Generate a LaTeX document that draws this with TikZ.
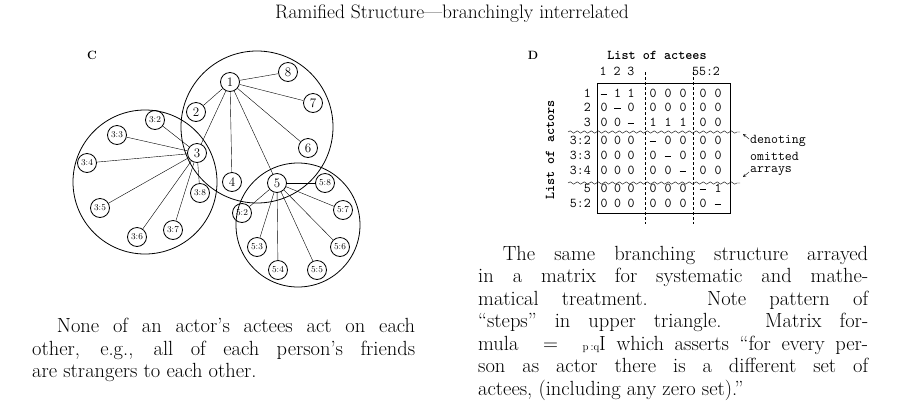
\documentclass[tikz,border=0pt]{standalone}
\usepackage{fontspec}
\usepackage{tikz}
\usetikzlibrary{decorations.pathmorphing}
\newcommand{\capfont}{\fontsize{20.5}{22.5}\selectfont}
\newcommand{\nil}{\rule[0.15em]{0.5em}{1.3pt}}
\begin{document}
\begin{tikzpicture}[
            x=1pt, y=-1pt,
            actor/.style={circle, draw, thick, inner sep=0pt, minimum size=19pt, font=\fontsize{13}{13}\selectfont},
            sub actor/.style={actor, font=\fontsize{9}{9}\selectfont},
            group/.style={thick},
            tie/.style={thin},
            wave/.style={thin, decorate, decoration={snake, amplitude=1.2pt, segment length=7pt}},
            cut/.style={thin, densely dashed},
            cell/.style={font=\ttfamily\fontsize{13.5}{13.5}\selectfont, inner sep=0pt},
            note/.style={font=\ttfamily\fontsize{13.5}{13}\selectfont, inner sep=0pt, anchor=west},
            caption/.style={align=justify, inner sep=0pt, anchor=north west, font=\capfont}
            ]
            \useasboundingbox (0,0) rectangle (897,416);
            \node (title) at (452,14) {\fontsize{19.5}{22}\selectfont Ramified Structure---branchingly interrelated};

            % C: the sociogram
            \node[font=\bfseries\large] (labC) at (92,55) {C};
            \draw[group] (257,127) circle (76);
            \draw[group] (145,182) circle (72);
            \draw[group] (298,225) circle (62);

            \node[actor] (a1) at (230,82) {1};
            \node[actor] (a2) at (196,112) {2};
            \node[actor] (a3) at (197,153) {3};
            \node[actor] (a4) at (232,182) {4};
            \node[actor] (a5) at (277,183) {5};
            \node[actor] (a6) at (308,148) {6};
            \node[actor] (a7) at (313,103) {7};
            \node[actor] (a8) at (288,72) {8};

            \node[sub actor] (a32) at (155,120) {3:2};
            \node[sub actor] (a33) at (117,135) {3:3};
            \node[sub actor] (a34) at (87,163) {3:4};
            \node[sub actor] (a35) at (100,208) {3:5};
            \node[sub actor] (a36) at (137,237) {3:6};
            \node[sub actor] (a37) at (173,230) {3:7};
            \node[sub actor] (a38) at (200,193) {3:8};

            \node[sub actor] (a52) at (242,213) {5:2};
            \node[sub actor] (a53) at (257,247) {5:3};
            \node[sub actor] (a54) at (278,270) {5:4};
            \node[sub actor] (a55) at (317,270) {5:5};
            \node[sub actor] (a56) at (340,247) {5:6};
            \node[sub actor] (a57) at (343,210) {5:7};
            \node[sub actor] (a58) at (325,183) {5:8};

            \foreach \t in {2,...,8} \draw[tie] (a1) -- (a\t);
            \foreach \t in {2,...,8} \draw[tie] (a3) -- (a3\t);
            \foreach \t in {2,...,8} \draw[tie] (a5) -- (a5\t);

            \node[caption, text width=383pt] (capC) at (32,318)
                {\hspace*{1.2em}None of an actor's actees act on each\linebreak other, e.g., all of each person's friends\linebreak are strangers to each other.};

            % D: the matrix
            \node[font=\bfseries\large] (labD) at (533,55) {D};
            \node[note, anchor=center] (actees) at (657,55) {\bfseries List of actees};
            \node[note, anchor=center] (colA) at (617,71) {1 2 3};
            \node[note, anchor=center] (colB) at (706,71) {55:2};
            \node[note, anchor=center, rotate=90] (actors) at (550,150) {\bfseries List of actors};
            \draw[thick] (597,83) rectangle (730,213);
            \draw[cut] (645,72) -- (645,224);
            \draw[cut] (693,72) -- (693,224);
            \draw[wave] (568,132) -- (740,132);
            \draw[wave] (568,183) -- (740,183);

            \foreach \lab/\y/\row in {1/93/{\nil,1,1,0,0,0,0,0}, 2/107/{0,\nil,0,0,0,0,0,0},
                                     3/122/{0,0,\nil,1,1,1,0,0}, 3:2/140/{0,0,0,\nil,0,0,0,0},
                                     3:3/155/{0,0,0,0,\nil,0,0,0}, 3:4/170/{0,0,0,0,0,\nil,0,0},
                                     5/188/{0,0,0,0,0,0,\nil,1}, 5:2/203/{0,0,0,0,0,0,0,\nil}} {
                \node[cell, anchor=east] at (591,\y) {\lab};
                \foreach \v [count=\i] in \row {
                    \pgfmathsetmacro{\xx}{\i<4 ? 604+13.5*(\i-1) : (\i<7 ? 653+15*(\i-4) : 703+15*(\i-7))}
                    \node[cell, anchor=base] at (\xx,\y+4.5) {\v};
                }
            }

            \node[note] (noteA) at (750,141) {denoting};
            \node[note] (noteB) at (750,156) {omitted};
            \node[note] (noteC) at (750,171) {arrays};
            \draw[->, thin, >=stealth] (noteA.west) ++(-1,-2) -- ++(-6,-5);
            \draw[->, thin, >=stealth] (noteC.west) ++(-1,1) -- ++(-6,5);

            \node[caption, text width=390pt] (capD) at (478,246)
                {\hspace*{1.2em}The same branching structure arrayed\linebreak in a matrix for systematic and mathe-\linebreak matical treatment. Note pattern of\linebreak ``steps'' in upper triangle. Matrix for-\linebreak mula ${}={}$ {\fontsize{11}{11}\selectfont p\,:q}I which asserts ``for every per-\linebreak son as actor there is a different set of\linebreak actees, (including any zero set).''};
        \end{tikzpicture}
\end{document}
